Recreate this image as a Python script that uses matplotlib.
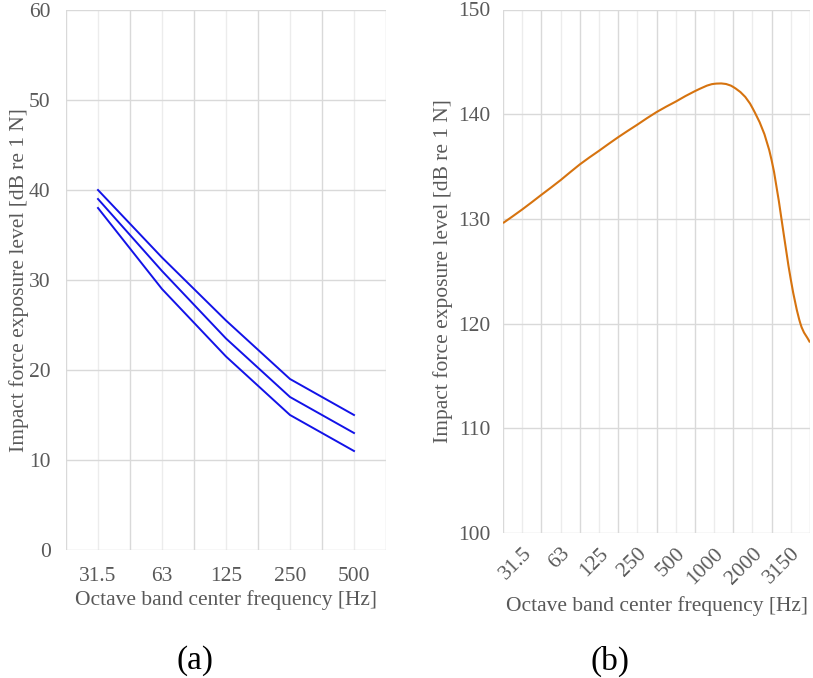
import numpy as np
import matplotlib
matplotlib.use("Agg")
import matplotlib.pyplot as plt
from matplotlib.path import Path
from matplotlib.patches import PathPatch

plt.rcParams['font.family'] = ['Liberation Serif', 'DejaVu Serif']

# Panel (a): octave bands, three curves
bands_a = ['31.5', '63', '125', '250', '500']
upper_a = [40, 32.5, 25.5, 19, 15]
middle_a = [39, 31, 23.5, 17, 13]
lower_a = [38, 29, 21.5, 15, 11]

# Panel (b): positions in category units (0..8), label every category
bands_b = ['31.5', '63', '125', '250', '500', '1000', '2000', '3150']
pos_b = [0, 0.5, 1, 1.5, 2, 2.5, 3, 3.5, 4, 4.5, 5, 5.5, 6, 6.5, 7, 7.5, 7.75, 8]
level_b = [129.6, 130.9, 132.3, 133.7, 135.2, 136.5, 137.8, 139.0, 140.2,
           141.2, 142.2, 142.9, 142.6, 140.6, 135.6, 124.2, 120.0, 118.2]

TXT = '#595959'
GRID = '#d9d9d9'
GRID2 = '#ececec'
BLUE = '#1212e8'
ORANGE = '#d6730f'
FS = 15.5


def smooth_path(x, y):
    # cubic hermite segments written as bezier curves (Excel-like smoothing)
    x = np.asarray(x, float)
    y = np.asarray(y, float)
    n = len(x)
    m = np.zeros(n)
    for i in range(n):
        a = max(i - 1, 0)
        b = min(i + 1, n - 1)
        m[i] = (y[b] - y[a]) / (x[b] - x[a])
    verts = [(x[0], y[0])]
    codes = [Path.MOVETO]
    for i in range(n - 1):
        h = x[i + 1] - x[i]
        verts += [(x[i] + h / 3, y[i] + m[i] * h / 3),
                  (x[i + 1] - h / 3, y[i + 1] - m[i + 1] * h / 3),
                  (x[i + 1], y[i + 1])]
        codes += [Path.CURVE4] * 3
    return Path(verts, codes)


def style_axes(ax, ncat):
    for s in ax.spines.values():
        s.set_visible(False)
    for k in range(ncat + 1):
        ax.axvline(k, color=GRID, lw=1.0, zorder=0)
    for k in range(ncat):
        ax.axvline(k + 0.5, color=GRID2, lw=1.0, zorder=0)
    ax.grid(axis='y', color=GRID, lw=1.0, zorder=0)
    ax.set_axisbelow(True)
    ax.tick_params(length=0, colors=TXT, labelsize=FS)


fig = plt.figure(figsize=(8.13, 6.78), dpi=100)

# ---- (a)
ax1 = fig.add_axes([66 / 813, 128 / 678, 320 / 813, 540 / 678])
xa = np.arange(len(bands_a)) + 0.5
for vals in (upper_a, middle_a, lower_a):
    ax1.plot(xa, vals, color=BLUE, lw=1.4, zorder=3)
ax1.set_xlim(0, len(bands_a))
ax1.set_ylim(0, 60)
ax1.set_yticks(range(0, 61, 10))
ax1.set_xticks(xa)
ax1.set_xticklabels(bands_a)
style_axes(ax1, len(bands_a))
ax1.tick_params(axis='x', pad=12)
ax1.tick_params(axis='y', pad=11)
ax1.set_xlabel('Octave band center frequency [Hz]', fontsize=FS, color=TXT, labelpad=3)
ax1.set_ylabel('Impact force exposure level [dB re 1 N]', fontsize=FS, color=TXT, labelpad=0)

# ---- (b)
ax2 = fig.add_axes([503 / 813, 145 / 678, 307 / 813, 523.5 / 678])
ax2.add_patch(PathPatch(smooth_path(pos_b, level_b), fill=False,
                        edgecolor=ORANGE, lw=1.5, zorder=3))
ax2.set_xlim(0, len(bands_b))
ax2.set_ylim(100, 150)
ax2.set_yticks(range(100, 151, 10))
xb = np.arange(len(bands_b)) + 0.5
ax2.set_xticks(xb)
ax2.set_xticklabels(bands_b, rotation=45, ha='right', va='top', rotation_mode='anchor',
                    fontsize=17)
style_axes(ax2, len(bands_b))
ax2.tick_params(axis='x', pad=8)
ax2.tick_params(axis='y', pad=9)
ax2.set_xlabel('Octave band center frequency [Hz]', fontsize=FS, color=TXT, labelpad=6)
ax2.set_ylabel('Impact force exposure level [dB re 1 N]', fontsize=FS, color=TXT, labelpad=4)

fig.text(195 / 813, 1 - 661 / 678, '(a)', fontsize=24, ha='center', va='center')
fig.text(610 / 813, 1 - 661 / 678, '(b)', fontsize=24, ha='center', va='center')

fig.savefig('out.png', dpi=100)
